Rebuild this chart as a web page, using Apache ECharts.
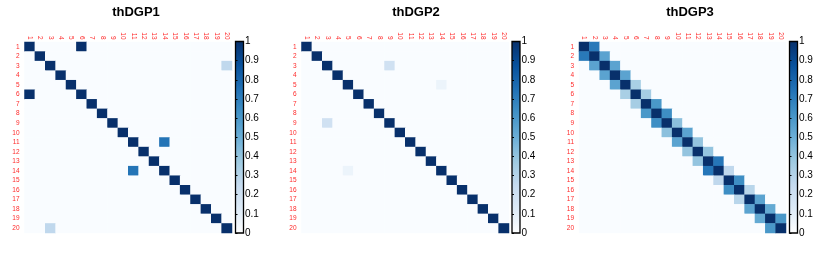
<!DOCTYPE html>
<html><head><meta charset="utf-8">
<script src="https://cdn.jsdelivr.net/npm/echarts@6/dist/echarts.min.js"></script>
<style>html,body{margin:0;padding:0;background:#fff}#c{width:830px;height:256px}</style>
</head><body><div id="c"></div>
<script>
const categories = ['1','2','3','4','5','6','7','8','9','10','11','12','13','14','15','16','17','18','19','20'];
const titles = ['thDGP1','thDGP2','thDGP3'];
const colorTicks = [0,0.1,0.2,0.3,0.4,0.5,0.6,0.7,0.8,0.9,1];
// diagonal values
const diag1 = [1,1,1,1,1,1,1,1,1,1,1,1,1,1,1,1,1,1,1,1];
const diag2 = [1,1,1,1,1,1,1,1,1,1,1,1,1,1,1,1,1,1,1,1];
const diag3 = [1,1,1,1,1,1,1,1,1,1,1,1,1,1,1,1,1,1,1,1];
// symmetric off-diagonal entries [row, col, value] (1-based)
const off1 = [[1,6,1.0],[3,20,0.27],[11,14,0.74]];
const off2 = [[3,9,0.2],[5,14,0.06]];
// thDGP3 first off-diagonal (i, i+1)
const band3 = [0.72,0.55,0.55,0.55,0.34,0.35,0.6,0.64,0.42,0.55,0.4,0.4,0.73,0.27,0.64,0.29,0.55,0.52,0.6];
const off3 = band3.map((v,i)=>[i+1,i+2,v]);

const blues = ['#F9FCFF','#DEEBF7','#C6DBEF','#9ECAE1','#6BAED6','#4292C6','#2171B5','#08519C','#08306B'];

function build(diag, off){
  const n = categories.length;
  const m = [];
  for(let i=0;i<n;i++){ m.push(new Array(n).fill(0)); m[i][i]=diag[i]; }
  off.forEach(([r,c,v])=>{ m[r-1][c-1]=v; m[c-1][r-1]=v; });
  const data=[];
  for(let i=0;i<n;i++) for(let j=0;j<n;j++) data.push([j,i,m[i][j]]);
  return data;
}
const mats = [build(diag1,off1), build(diag2,off2), build(diag3,off3)];

const FONT = 'Liberation Sans';
const panels = [
  {left:24.5, width:207.5, cb:235.5, tx:131},
  {left:301.5, width:207.5, cb:512, tx:411},
  {left:579, width:207, cb:789.5, tx:685}
];
const gTop = 42, gH = 191;

const grids=[], xAxes=[], yAxes=[], series=[], titleArr=[];
panels.forEach((p,k)=>{
  grids.push({left:p.left, top:gTop, width:p.width, height:gH, containLabel:false});
  xAxes.push({type:'category', gridIndex:k, data:categories, position:'top',
    axisLine:{show:false}, axisTick:{show:false}, splitLine:{show:false},
    axisLabel:{rotate:90, fontSize:6.5, color:'#ff2a2a', margin:2.5, fontFamily:FONT, interval:0}});
  yAxes.push({type:'category', gridIndex:k, data:categories, inverse:true,
    axisLine:{show:false}, axisTick:{show:false}, splitLine:{show:false},
    axisLabel:{fontSize:6.5, color:'#ff2a2a', margin:5, fontFamily:FONT, interval:0}});
  series.push({type:'heatmap', xAxisIndex:k, yAxisIndex:k, data:mats[k],
    progressive:0, emphasis:{disabled:true},
    itemStyle:{borderWidth:0}});
  titleArr.push({text:titles[k], left:p.tx, top:1, textAlign:'center',
    textStyle:{fontFamily:FONT, fontWeight:'bold', fontSize:13, color:'#000'}});
});
panels.forEach((p,k)=>{
  const gi = 3+k;
  grids.push({left:p.cb, top:41.5, width:8, height:191.5, show:true,
    borderColor:'#000', borderWidth:1.3,
    backgroundColor:{type:'linear', x:0, y:1, x2:0, y2:0,
      colorStops: blues.map((c,i)=>({offset:i/(blues.length-1), color:i===0?'#FFFFFF':c}))}});
  xAxes.push({type:'value', gridIndex:gi, show:false, min:0, max:1});
  yAxes.push({type:'value', gridIndex:gi, min:colorTicks[0], max:colorTicks[colorTicks.length-1], interval:0.1,
    position:'right', axisLine:{show:false}, splitLine:{show:false},
    axisTick:{show:true, length:2, lineStyle:{color:'#000', width:1}},
    axisLabel:{fontSize:10, color:'#000', margin:1.5, fontFamily:FONT,
      formatter:(v)=>String(Math.round(v*10)/10)}});
});

const chart = echarts.init(document.getElementById('c'), null, {renderer:'canvas'});
chart.setOption({
  animation:false,
  backgroundColor:'#fff',
  title:titleArr,
  grid:grids, xAxis:xAxes, yAxis:yAxes,
  visualMap:{show:false, min:0, max:1, seriesIndex:[0,1,2], inRange:{color:blues}},
  series:series
});
</script></body></html>
